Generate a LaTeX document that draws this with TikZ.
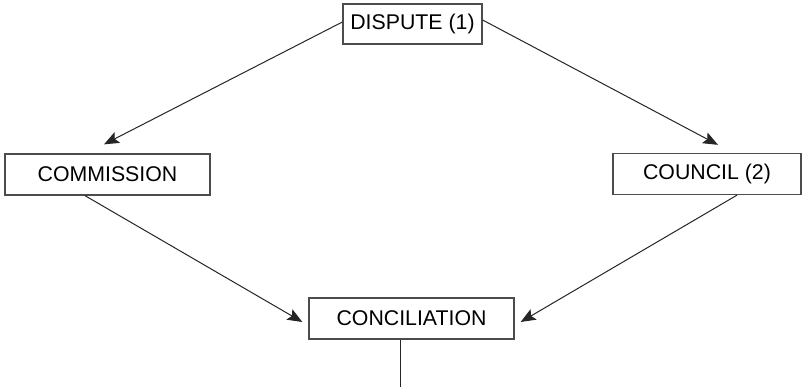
\documentclass[tikz,border=0pt]{standalone}
\usepackage{fontspec}
\setmainfont{Liberation Sans}
\usetikzlibrary{arrows.meta,calc}
\begin{document}
\begin{tikzpicture}[x=1pt,y=-1pt,
  box/.style={draw=black!70,line width=1.3pt,fill=white,inner sep=0pt,minimum height=40pt,font=\fontsize{21.3}{25}\selectfont},
  conn/.style={draw=black!85,line width=1pt,-{Stealth[length=15pt,width=12pt,inset=3pt]}}]
\useasboundingbox[fill=white] (0,0) rectangle (804,387);
\node[box,minimum width=139pt] (dispute) at (412.5,24) {DISPUTE (1)};
\node[box,minimum width=205pt,minimum height=41pt] (commission) at (107.5,174.5) {COMMISSION};
\node[box,minimum width=188pt,minimum height=41pt] (council) at (707,174) {COUNCIL (2)};
\node[box,minimum width=205pt,minimum height=41pt] (concil) at (411.5,318.5) {CONCILIATION};
\coordinate (end) at (400,387);
\draw[conn] ($(dispute.west)+(0,-2)$) -- ($(commission.north)+(-3.5,-9)$);
\draw[conn] ($(dispute.east)+(0,-4)$) -- ($(council.north)+(11,-8)$);
\draw[conn] ($(commission.south)+(-22.5,0)$) -- ($(concil.west)+(-6,3.5)$);
\draw[conn] ($(council.south)+(30,0)$) -- ($(concil.east)+(6,3.5)$);
\draw[draw=black!85,line width=1pt] (end |- concil.south) -- (end);
\end{tikzpicture}
\end{document}
